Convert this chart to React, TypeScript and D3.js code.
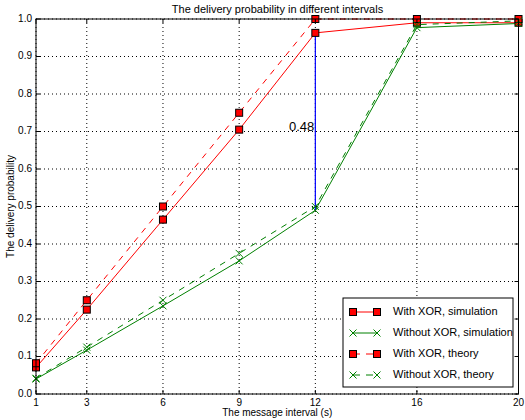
import React from "react";
import * as d3 from "d3";

const width = 525;
const height = 420;
const margin = { top: 19, right: 6.5, bottom: 26, left: 36 };

const intervals = [1, 3, 6, 9, 12, 16, 20];
const xorSim = [0.071, 0.225, 0.465, 0.705, 0.963, 0.99, 0.99];
const noXorSim = [0.04, 0.117, 0.235, 0.355, 0.49, 0.977, 0.988];
const xorTheory = [0.082, 0.25, 0.5, 0.75, 1.0, 1.0, 1.0];
const noXorTheory = [0.042, 0.125, 0.25, 0.375, 0.5, 0.985, 0.995];
const yTicks = [0, 0.1, 0.2, 0.3, 0.4, 0.5, 0.6, 0.7, 0.8, 0.9, 1.0];

const series = [
  { name: "With XOR, simulation", values: xorSim, color: "#ff0000", dash: "", marker: "square" },
  { name: "Without XOR, simulation", values: noXorSim, color: "#008000", dash: "", marker: "x" },
  { name: "With XOR, theory", values: xorTheory, color: "#ff0000", dash: "6,6", marker: "square" },
  { name: "Without XOR, theory", values: noXorTheory, color: "#008000", dash: "6,6", marker: "x" },
];

const iw = width - margin.left - margin.right;
const ih = height - margin.top - margin.bottom;
const x = d3.scaleLinear().domain([1, 20]).range([0, iw]);
const y = d3.scaleLinear().domain([0, 1]).range([ih, 0]);

const font = "'Liberation Sans', Arial, sans-serif";

const Marker = ({ kind, cx, cy, color }: { kind: string; cx: number; cy: number; color: string }) =>
  kind === "square" ? (
    <rect x={cx - 3.5} y={cy - 3.5} width={7} height={7} fill="#ff0000" stroke="#000" strokeWidth={1} />
  ) : (
    <path
      d={`M${cx - 3.5},${cy - 3.5}L${cx + 3.5},${cy + 3.5}M${cx - 3.5},${cy + 3.5}L${cx + 3.5},${cy - 3.5}`}
      stroke={color}
      strokeWidth={1}
    />
  );

export default function App() {
  const line = d3
    .line<number>()
    .x((_, i) => x(intervals[i]))
    .y((d) => y(d));

  const gapX = 12;
  const legend = { x: 343 - margin.left, y: 298 - margin.top, w: 170, h: 89 };

  return (
    <svg
      width={width}
      height={height}
      style={{ position: "absolute", left: 0, top: 0, background: "#fff" }}
      fontFamily={font}
    >
      <rect width={width} height={height} fill="#fff" />
      <text x={width / 2 + 15} y={13} textAnchor="middle" fontSize={11}>
        The delivery probability in different intervals
      </text>
      <g transform={`translate(${margin.left},${margin.top})`}>
        {intervals.map((t) => (
          <line key={"gx" + t} x1={x(t)} x2={x(t)} y1={0} y2={ih} stroke="#000" strokeDasharray="1,3" strokeWidth={1} />
        ))}
        {yTicks.map((t) => (
          <line key={"gy" + t} x1={0} x2={iw} y1={y(t)} y2={y(t)} stroke="#000" strokeDasharray="1,3" strokeWidth={1} />
        ))}
        {series.map((s) => (
          <path key={s.name} d={line(s.values) ?? ""} fill="none" stroke={s.color} strokeWidth={1} strokeDasharray={s.dash} />
        ))}
        <line
          x1={x(gapX)}
          x2={x(gapX)}
          y1={y(noXorSim[intervals.indexOf(gapX)])}
          y2={y(xorSim[intervals.indexOf(gapX)])}
          stroke="#0000ff"
          strokeWidth={1.2}
        />
        <text x={x(gapX) - 1} y={y(0.71)} textAnchor="end" dominantBaseline="middle" fontSize={13}>
          0.48
        </text>
        {series.map((s) =>
          s.values.map((v, i) => (
            <Marker key={s.name + i} kind={s.marker} cx={x(intervals[i])} cy={y(v)} color={s.color} />
          ))
        )}
        {intervals.map((t) => (
          <g key={"tx" + t}>
            <line x1={x(t)} x2={x(t)} y1={ih} y2={ih - 4} stroke="#000" />
            <line x1={x(t)} x2={x(t)} y1={0} y2={4} stroke="#000" />
            <text x={x(t)} y={ih + 12} textAnchor="middle" fontSize={10}>
              {t}
            </text>
          </g>
        ))}
        {yTicks.map((t) => (
          <g key={"ty" + t}>
            <line x1={0} x2={4} y1={y(t)} y2={y(t)} stroke="#000" />
            <line x1={iw} x2={iw - 4} y1={y(t)} y2={y(t)} stroke="#000" />
            <text x={-4} y={y(t)} textAnchor="end" dominantBaseline="middle" fontSize={10}>
              {t.toFixed(1)}
            </text>
          </g>
        ))}
        <rect x={0} y={0} width={iw} height={ih} fill="none" stroke="#000" strokeWidth={1} />
        <g transform={`translate(${legend.x},${legend.y})`}>
          <rect width={legend.w} height={legend.h} fill="#fff" stroke="#000" strokeWidth={1} />
          {series.map((s, i) => {
            const ly = 14 + i * 21;
            return (
              <g key={"lg" + s.name}>
                <line x1={10} x2={34} y1={ly} y2={ly} stroke={s.color} strokeDasharray={s.dash ? "7,6" : ""} />
                <Marker kind={s.marker} cx={10} cy={ly} color={s.color} />
                <Marker kind={s.marker} cx={34} cy={ly} color={s.color} />
                <text x={50} y={ly} dominantBaseline="middle" fontSize={11}>
                  {s.name}
                </text>
              </g>
            );
          })}
        </g>
      </g>
      <text x={margin.left + iw / 2} y={416} textAnchor="middle" fontSize={10}>
        The message interval (s)
      </text>
      <text transform={`translate(11,${margin.top + ih / 2}) rotate(-90)`} textAnchor="middle" dominantBaseline="middle" fontSize={10}>
        The delivery probability
      </text>
    </svg>
  );
}
